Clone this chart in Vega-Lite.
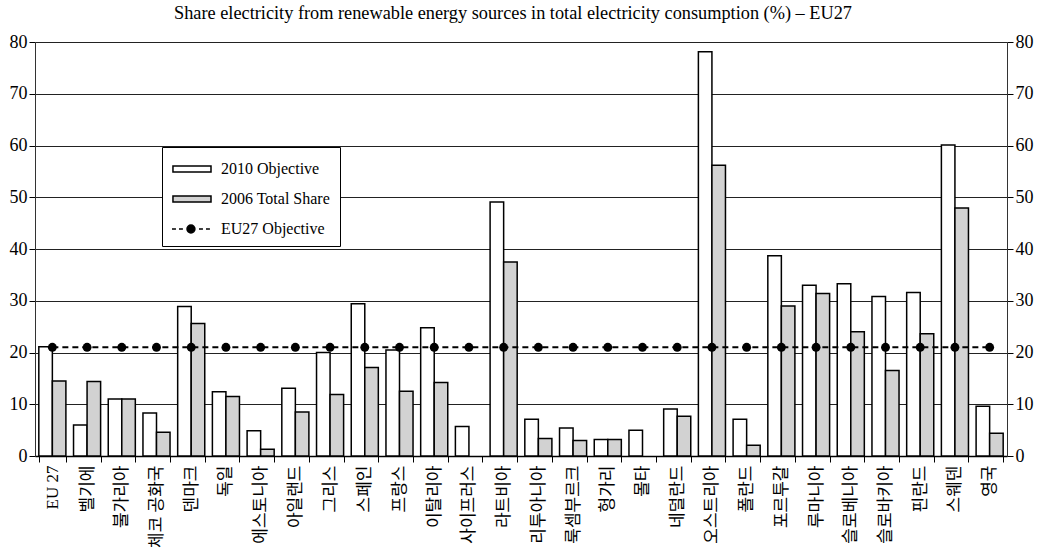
{
  "$schema": "https://vega.github.io/schema/vega-lite/v6.json",
  "width": 972,
  "height": 414,
  "autosize": {"type": "none"},
  "padding": {"left": 35, "top": 42, "right": 52, "bottom": 93},
  "background": "white",
  "config": {"view": {"stroke": null}, "font": "Liberation Serif, serif"},
  "title": {
    "text": "Share electricity from renewable energy sources in total electricity consumption (%) – EU27",
    "font": "Liberation Serif, serif",
    "fontSize": 18.3,
    "fontWeight": "normal",
    "color": "black",
    "anchor": "middle",
    "dx": -8,
    "offset": 10
  },
  "datasets": {
    "bars": [
      {"country": "EU 27", "series": "2010 Objective", "value": 21.1},
      {"country": "EU 27", "series": "2006 Total Share", "value": 14.5},
      {"country": "벨기에", "series": "2010 Objective", "value": 6.0},
      {"country": "벨기에", "series": "2006 Total Share", "value": 14.4},
      {"country": "불가리아", "series": "2010 Objective", "value": 11.0},
      {"country": "불가리아", "series": "2006 Total Share", "value": 11.0},
      {"country": "체코 공화국", "series": "2010 Objective", "value": 8.3},
      {"country": "체코 공화국", "series": "2006 Total Share", "value": 4.6},
      {"country": "덴마크", "series": "2010 Objective", "value": 28.9},
      {"country": "덴마크", "series": "2006 Total Share", "value": 25.6},
      {"country": "독일", "series": "2010 Objective", "value": 12.4},
      {"country": "독일", "series": "2006 Total Share", "value": 11.5},
      {"country": "에스토니아", "series": "2010 Objective", "value": 4.9},
      {"country": "에스토니아", "series": "2006 Total Share", "value": 1.3},
      {"country": "아일랜드", "series": "2010 Objective", "value": 13.1},
      {"country": "아일랜드", "series": "2006 Total Share", "value": 8.5},
      {"country": "그리스", "series": "2010 Objective", "value": 20.0},
      {"country": "그리스", "series": "2006 Total Share", "value": 11.9},
      {"country": "스페인", "series": "2010 Objective", "value": 29.4},
      {"country": "스페인", "series": "2006 Total Share", "value": 17.1},
      {"country": "프랑스", "series": "2010 Objective", "value": 20.5},
      {"country": "프랑스", "series": "2006 Total Share", "value": 12.5},
      {"country": "이탈리아", "series": "2010 Objective", "value": 24.8},
      {"country": "이탈리아", "series": "2006 Total Share", "value": 14.2},
      {"country": "사이프러스", "series": "2010 Objective", "value": 5.7},
      {"country": "라트비아", "series": "2010 Objective", "value": 49.1},
      {"country": "라트비아", "series": "2006 Total Share", "value": 37.5},
      {"country": "리투아니아", "series": "2010 Objective", "value": 7.1},
      {"country": "리투아니아", "series": "2006 Total Share", "value": 3.4},
      {"country": "룩셈부르크", "series": "2010 Objective", "value": 5.4},
      {"country": "룩셈부르크", "series": "2006 Total Share", "value": 3.0},
      {"country": "헝가리", "series": "2010 Objective", "value": 3.2},
      {"country": "헝가리", "series": "2006 Total Share", "value": 3.2},
      {"country": "몰타", "series": "2010 Objective", "value": 5.0},
      {"country": "네덜란드", "series": "2010 Objective", "value": 9.1},
      {"country": "네덜란드", "series": "2006 Total Share", "value": 7.7},
      {"country": "오스트리아", "series": "2010 Objective", "value": 78.1},
      {"country": "오스트리아", "series": "2006 Total Share", "value": 56.2},
      {"country": "폴란드", "series": "2010 Objective", "value": 7.1},
      {"country": "폴란드", "series": "2006 Total Share", "value": 2.1},
      {"country": "포르투갈", "series": "2010 Objective", "value": 38.7},
      {"country": "포르투갈", "series": "2006 Total Share", "value": 29.0},
      {"country": "루마니아", "series": "2010 Objective", "value": 33.0},
      {"country": "루마니아", "series": "2006 Total Share", "value": 31.4},
      {"country": "슬로베니아", "series": "2010 Objective", "value": 33.3},
      {"country": "슬로베니아", "series": "2006 Total Share", "value": 24.0},
      {"country": "슬로바키아", "series": "2010 Objective", "value": 30.8},
      {"country": "슬로바키아", "series": "2006 Total Share", "value": 16.5},
      {"country": "핀란드", "series": "2010 Objective", "value": 31.6},
      {"country": "핀란드", "series": "2006 Total Share", "value": 23.6},
      {"country": "스웨덴", "series": "2010 Objective", "value": 60.1},
      {"country": "스웨덴", "series": "2006 Total Share", "value": 47.9},
      {"country": "영국", "series": "2010 Objective", "value": 9.6},
      {"country": "영국", "series": "2006 Total Share", "value": 4.4}
    ],
    "objective": [
      {"country": "EU 27", "series": "EU27 Objective", "value": 21},
      {"country": "벨기에", "series": "EU27 Objective", "value": 21},
      {"country": "불가리아", "series": "EU27 Objective", "value": 21},
      {"country": "체코 공화국", "series": "EU27 Objective", "value": 21},
      {"country": "덴마크", "series": "EU27 Objective", "value": 21},
      {"country": "독일", "series": "EU27 Objective", "value": 21},
      {"country": "에스토니아", "series": "EU27 Objective", "value": 21},
      {"country": "아일랜드", "series": "EU27 Objective", "value": 21},
      {"country": "그리스", "series": "EU27 Objective", "value": 21},
      {"country": "스페인", "series": "EU27 Objective", "value": 21},
      {"country": "프랑스", "series": "EU27 Objective", "value": 21},
      {"country": "이탈리아", "series": "EU27 Objective", "value": 21},
      {"country": "사이프러스", "series": "EU27 Objective", "value": 21},
      {"country": "라트비아", "series": "EU27 Objective", "value": 21},
      {"country": "리투아니아", "series": "EU27 Objective", "value": 21},
      {"country": "룩셈부르크", "series": "EU27 Objective", "value": 21},
      {"country": "헝가리", "series": "EU27 Objective", "value": 21},
      {"country": "몰타", "series": "EU27 Objective", "value": 21},
      {"country": "네덜란드", "series": "EU27 Objective", "value": 21},
      {"country": "오스트리아", "series": "EU27 Objective", "value": 21},
      {"country": "폴란드", "series": "EU27 Objective", "value": 21},
      {"country": "포르투갈", "series": "EU27 Objective", "value": 21},
      {"country": "루마니아", "series": "EU27 Objective", "value": 21},
      {"country": "슬로베니아", "series": "EU27 Objective", "value": 21},
      {"country": "슬로바키아", "series": "EU27 Objective", "value": 21},
      {"country": "핀란드", "series": "EU27 Objective", "value": 21},
      {"country": "스웨덴", "series": "EU27 Objective", "value": 21},
      {"country": "영국", "series": "EU27 Objective", "value": 21}
    ]
  },
  "encoding": {
    "x": {
      "field": "country",
      "type": "nominal",
      "sort": ["EU 27","벨기에","불가리아","체코 공화국","덴마크","독일","에스토니아","아일랜드","그리스","스페인","프랑스","이탈리아","사이프러스","라트비아","리투아니아","룩셈부르크","헝가리","몰타","네덜란드","오스트리아","폴란드","포르투갈","루마니아","슬로베니아","슬로바키아","핀란드","스웨덴","영국"],
      "scale": {"paddingInner": 0.22, "paddingOuter": 0.11},
      "axis": {
        "title": null,
        "labelAngle": -90,
        "labelFont": "Liberation Serif, Noto Sans CJK KR, serif",
        "labelFontSize": 17,
        "labelColor": "black",
        "labelPadding": 3,
        "labelLimit": 200,
        "tickBand": "extent",
        "tickSize": 6,
        "tickColor": "black",
        "domainColor": "black",
        "domainWidth": 1.5
      }
    }
  },
  "layer": [
    {
      "data": {"name": "bars"},
      "mark": {"type": "bar", "stroke": "black", "strokeWidth": 1.5, "opacity": 1},
      "encoding": {
        "xOffset": {
          "field": "series",
          "type": "nominal",
          "sort": ["2010 Objective", "2006 Total Share"],
          "scale": {"paddingInner": 0, "paddingOuter": 0}
        },
        "y": {
          "field": "value",
          "type": "quantitative",
          "scale": {"domain": [0, 80], "nice": false},
          "axis": {
            "orient": "left",
            "title": null,
            "values": [0, 10, 20, 30, 40, 50, 60, 70, 80],
            "grid": true,
            "gridColor": "#222222",
            "gridWidth": 1,
            "domainColor": "#333333",
            "tickColor": "black",
            "tickSize": 6,
            "labelFont": "Liberation Serif, serif",
            "labelFontSize": 18,
            "labelColor": "black",
            "labelPadding": 2
          }
        },
        "fill": {
          "field": "series",
          "type": "nominal",
          "scale": {
            "domain": ["2010 Objective", "2006 Total Share"],
            "range": ["#ffffff", "#d2d2d2"]
          },
          "legend": null
        }
      }
    },
    {
      "data": {"name": "objective"},
      "mark": {"type": "line", "color": "black", "strokeDash": [6, 4], "strokeWidth": 2, "point": {"filled": true, "size": 80, "opacity": 1, "color": "black"}},
      "encoding": {
        "y": {
          "field": "value",
          "type": "quantitative",
          "scale": {"domain": [0, 80], "nice": false},
          "axis": {
            "orient": "right",
            "title": null,
            "values": [0, 10, 20, 30, 40, 50, 60, 70, 80],
            "grid": false,
            "domainColor": "#333333",
            "tickColor": "black",
            "tickSize": 6,
            "labelFont": "Liberation Serif, serif",
            "labelFontSize": 18,
            "labelColor": "black",
            "labelPadding": 2
          }
        }
      }
    },
    {
      "data": {"name": "objective"},
      "mark": {"type": "point", "filled": true, "size": 0, "strokeWidth": 1.5},
      "encoding": {
        "y": {"field": "value", "type": "quantitative", "axis": null},
        "color": {
          "field": "series",
          "type": "nominal",
          "scale": {
            "domain": ["2010 Objective", "2006 Total Share", "EU27 Objective"],
            "range": ["#ffffff", "#d2d2d2", "#000000"]
          },
          "legend": {
            "orient": "none", "legendX": 127, "legendY": 105,
            "title": "\u2003\u2003", "titleOrient": "right", "titleFontSize": 34, "titlePadding": 0,
            "fillColor": "white", "strokeColor": "black",
            "padding": 9, "rowPadding": 9,
            "symbolSize": 576, "symbolStrokeWidth": 1.5, "symbolStrokeColor": "black", "symbolOpacity": 1,
            "labelOffset": 24, "labelFont": "Liberation Serif, serif", "labelFontSize": 16, "labelColor": "black"
          }
        },
        "stroke": {
          "field": "series",
          "type": "nominal",
          "scale": {
            "domain": ["2010 Objective", "2006 Total Share", "EU27 Objective"],
            "range": ["#000000", "#000000", "#000000"]
          },
          "legend": {
            "orient": "none", "legendX": 127, "legendY": 105,
            "title": "\u2003\u2003", "titleOrient": "right", "titleFontSize": 34, "titlePadding": 0,
            "fillColor": "white", "strokeColor": "black",
            "padding": 9, "rowPadding": 9,
            "symbolSize": 576, "symbolStrokeWidth": 1.5, "symbolStrokeColor": "black", "symbolOpacity": 1,
            "labelOffset": 24, "labelFont": "Liberation Serif, serif", "labelFontSize": 16, "labelColor": "black"
          }
        },
        "shape": {
          "field": "series",
          "type": "nominal",
          "scale": {
            "domain": ["2010 Objective", "2006 Total Share", "EU27 Objective"],
            "range": [
              "M-0.92,-0.25H2.25V0.25H-0.92Z",
              "M-0.92,-0.25H2.25V0.25H-0.92Z",
              "M-1,0H-0.67M-0.42,0H-0.09M1.25,0H1.58M1.83,0H2.16M0.25,0A0.33,0.33 0 1,0 0.91,0A0.33,0.33 0 1,0 0.25,0Z"
            ]
          },
          "legend": {
            "orient": "none", "legendX": 127, "legendY": 105,
            "title": "\u2003\u2003", "titleOrient": "right", "titleFontSize": 34, "titlePadding": 0,
            "fillColor": "white", "strokeColor": "black",
            "padding": 9, "rowPadding": 9,
            "symbolSize": 576, "symbolStrokeWidth": 1.5, "symbolStrokeColor": "black", "symbolOpacity": 1,
            "labelOffset": 24, "labelFont": "Liberation Serif, serif", "labelFontSize": 16, "labelColor": "black"
          }
        }
      }
    }
  ]
}
